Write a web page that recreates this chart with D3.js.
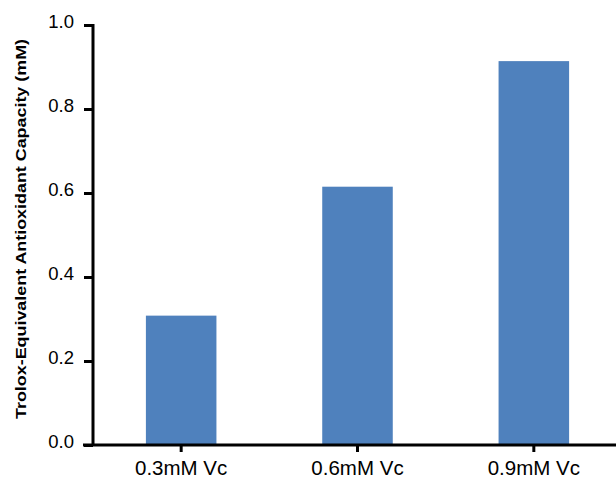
<!DOCTYPE html>
<meta charset="utf-8">
<script src="https://d3js.org/d3.v7.min.js"></script>
<style>
  body { margin: 0; background: #fff; }
  text { font-family: Arial, "Liberation Sans", sans-serif; }
</style>
<div id="my_dataviz"></div>
<script>
    // data
    var categories = ["0.3mM Vc", "0.6mM Vc", "0.9mM Vc"];
    var teacValues = [0.308, 0.615, 0.914];
    var yTicks = [0.0, 0.2, 0.4, 0.6, 0.8, 1.0];

    var width = 616, height = 478;
    var plotLeft = 93, plotBottom = 445, plotTop = 25, plotRight = 622;

    var svg = d3.select("#my_dataviz")
        .append("svg")
        .attr("width", width)
        .attr("height", height);

    var x = d3.scaleBand()
        .domain(categories)
        .range([plotLeft, plotRight])
        .paddingInner(0.6)
        .paddingOuter(0.3);

    var y = d3.scaleLinear()
        .domain([0, 1])
        .range([plotBottom, plotTop]);

    // bars
    svg.selectAll("rect.bar")
        .data(categories)
        .enter()
        .append("rect")
        .attr("class", "bar")
        .attr("x", d => x(d))
        .attr("width", x.bandwidth())
        .attr("y", (d, i) => y(teacValues[i]))
        .attr("height", (d, i) => plotBottom - y(teacValues[i]))
        .attr("fill", "#4f81bd");

    // y axis
    var yAxis = svg.append("g")
        .attr("transform", "translate(" + plotLeft + ",0)")
        .call(d3.axisLeft(y).tickValues(yTicks).tickFormat(d3.format(".1f"))
            .tickSize(9).tickSizeOuter(0).tickPadding(10));
    yAxis.select(".domain").attr("d", "M0," + (plotTop - 1) + "V" + (plotBottom + 1));
    yAxis.selectAll("line, path").attr("stroke", "#000").attr("stroke-width", 3);
    yAxis.selectAll("text")
        .attr("font-size", "18.5px")
        .attr("dy", "0.13em")
        .attr("fill", "#000");

    // x axis, runs past the y axis on the left and off the right edge
    var xAxis = svg.append("g")
        .attr("transform", "translate(0," + plotBottom + ")")
        .call(d3.axisBottom(x).tickSize(7).tickSizeOuter(0).tickPadding(8));
    xAxis.select(".domain").attr("d", "M" + (plotLeft - 10) + ",0H" + width);
    xAxis.selectAll("line, path").attr("stroke", "#000").attr("stroke-width", 3);
    xAxis.selectAll("text")
        .attr("font-size", "20.5px")
        .attr("fill", "#000");

    // y axis title
    svg.append("text")
        .attr("transform", "translate(25.5," + ((39 + 419) / 2) + ") rotate(-90)")
        .attr("text-anchor", "middle")
        .attr("font-size", "15px")
        .attr("font-weight", "bold")
        .attr("textLength", 380)
        .attr("lengthAdjust", "spacingAndGlyphs")
        .text("Trolox-Equivalent Antioxidant Capacity (mM)");
</script>
